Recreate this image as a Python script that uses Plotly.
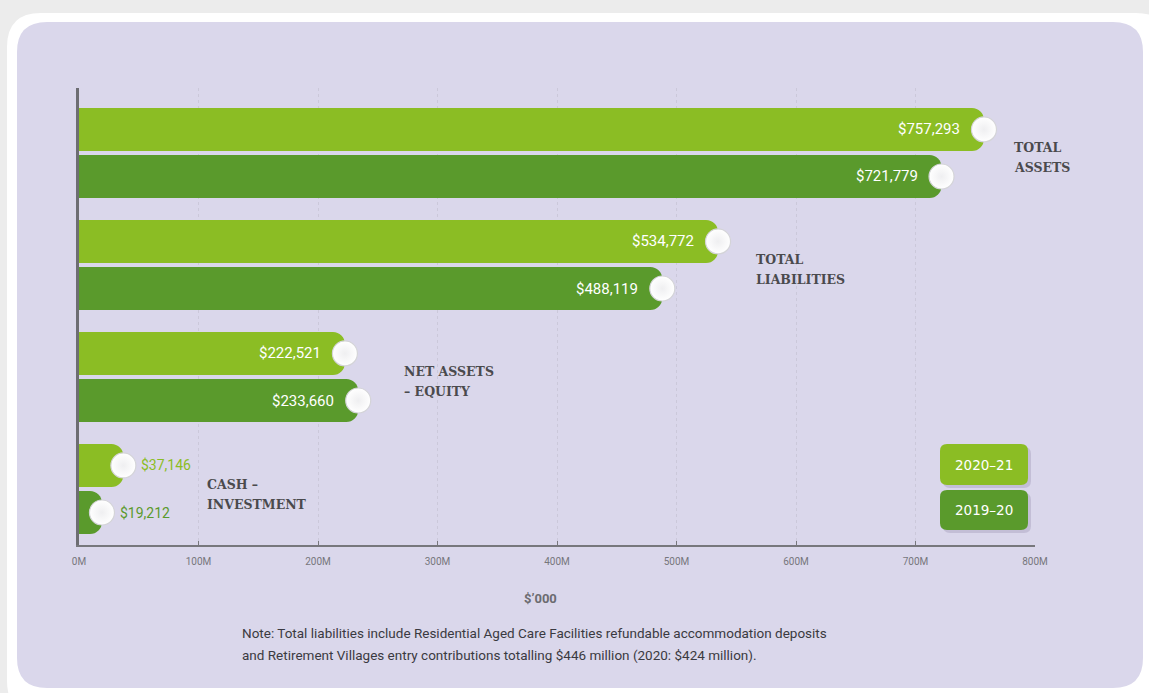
import plotly.graph_objects as go

# ---------------- data ----------------
categories = ["TOTAL<br>ASSETS", "TOTAL<br>LIABILITIES", "NET ASSETS<br>– EQUITY", "CASH –<br>INVESTMENT"]
series_names = ["2020–21", "2019–20"]
values_2021 = [757.293, 534.772, 222.521, 37.146]   # $M
values_2020 = [721.779, 488.119, 233.660, 19.212]   # $M
labels_2021 = ["$757,293", "$534,772", "$222,521", "$37,146"]
labels_2020 = ["$721,779", "$488,119", "$233,660", "$19,212"]
tick_vals = [0, 100, 200, 300, 400, 500, 600, 700, 800]
tick_text = ["0M", "100M", "200M", "300M", "400M", "500M", "600M", "700M", "800M"]
axis_title = "$’000"
note_lines = [
    "Note: Total liabilities include Residential Aged Care Facilities refundable accommodation deposits",
    "and Retirement Villages entry contributions totalling $446 million (2020: $424 million).",
]

# ---------------- style ----------------
W, H = 1149, 693
ML, MR, MT, MB = 79, 114, 88, 148
LIGHT = "#8bbd24"
DARK = "#5a9a2c"
LAV = "#dad7eb"
BAR_W = 0.385
HALF = 0.21
cat_label_shift = [28, 36, 44, 82]

n = len(categories)
ypos = [n - 1 - i for i in range(n)]
y_light = [y + HALF for y in ypos]
y_dark = [y - HALF for y in ypos]

fig = go.Figure()
fig.add_trace(go.Bar(orientation="h", x=values_2021, y=ypos, name=series_names[0],
                     offset=HALF - BAR_W / 2, width=BAR_W,
                     marker=dict(color=LIGHT, cornerradius=12, line=dict(width=0)),
                     hoverinfo="skip"))
fig.add_trace(go.Bar(orientation="h", x=values_2020, y=ypos, name=series_names[1],
                     offset=-HALF - BAR_W / 2, width=BAR_W,
                     marker=dict(color=DARK, cornerradius=12, line=dict(width=0)),
                     hoverinfo="skip"))
for xs, ys in ((values_2021, y_light), (values_2020, y_dark)):
    fig.add_trace(go.Scatter(x=xs, y=ys, mode="markers", hoverinfo="skip",
                             marker=dict(size=25, color="#ffffff",
                                         gradient=dict(type="radial", color="#efeff1"),
                                         line=dict(color="#d4d4d8", width=1.2))))

annotations = []
# value labels
for xs, ys, labs, col in ((values_2021, y_light, labels_2021, LIGHT), (values_2020, y_dark, labels_2020, DARK)):
    for x, y, lab in zip(xs, ys, labs):
        if x >= 100:
            annotations.append(dict(x=x, y=y, text=lab, showarrow=False, xanchor="right",
                                    xshift=-22, yanchor="middle",
                                    font=dict(family="Roboto, Open Sans, sans-serif", size=15, color="#ffffff")))
        else:
            annotations.append(dict(x=x, y=y, text=lab, showarrow=False, xanchor="left",
                                    xshift=16, yanchor="middle",
                                    font=dict(family="Roboto, Open Sans, sans-serif", size=14, color=col)))
# category labels (two lines, 20px apart)
for i, (cat, y) in enumerate(zip(categories, ypos)):
    xm = max(values_2021[i], values_2020[i])
    for j, part in enumerate(cat.split("<br>")):
        annotations.append(dict(x=xm, y=y, text=part, showarrow=False, xanchor="left",
                                xshift=cat_label_shift[i], yshift=5 - 20 * j, yanchor="middle", align="left",
                                font=dict(family="DejaVu Serif, serif", size=12.5, color="#4a4a4d",
                                          weight="bold")))


def px2paper(px, py):
    return (px - ML) / (W - ML - MR), (H - MB - py) / (H - MT - MB)


def rrect(x0, y0, x1, y1, r):
    def P(px, py):
        a, b = px2paper(px, py)
        return f"{a:.5f},{b:.5f}"
    return (f"M {P(x0 + r, y0)} L {P(x1 - r, y0)} Q {P(x1, y0)} {P(x1, y0 + r)} "
            f"L {P(x1, y1 - r)} Q {P(x1, y1)} {P(x1 - r, y1)} L {P(x0 + r, y1)} "
            f"Q {P(x0, y1)} {P(x0, y1 - r)} L {P(x0, y0 + r)} Q {P(x0, y0)} {P(x0 + r, y0)} Z")


shapes = [
    dict(type="path", xref="paper", yref="paper", path=rrect(10, 16, 1175, 720, 34),
         fillcolor="#d2d2d2", line=dict(width=0), layer="below"),
    dict(type="path", xref="paper", yref="paper", path=rrect(7, 13, 1170, 715, 34),
         fillcolor="#ffffff", line=dict(width=0), layer="below"),
    dict(type="path", xref="paper", yref="paper", path=rrect(17, 22, 1143, 688, 30),
         fillcolor=LAV, line=dict(width=0), layer="below"),
]

# legend boxes
leg_boxes = [(940, 444, 1028, 485), (940, 490, 1028, 530)]
for (x0, y0, x1, y1), name, col in zip(leg_boxes, series_names, (LIGHT, DARK)):
    shapes.append(dict(type="path", xref="paper", yref="paper", path=rrect(x0 + 3, y0 + 3, x1 + 3, y1 + 3, 7),
                       fillcolor="#c3bed6", line=dict(width=0), layer="above"))
    shapes.append(dict(type="path", xref="paper", yref="paper", path=rrect(x0, y0, x1, y1, 7),
                       fillcolor=col, line=dict(width=0), layer="above"))
    cx, cy = px2paper((x0 + x1) / 2, (y0 + y1) / 2)
    annotations.append(dict(x=cx, y=cy, xref="paper", yref="paper", text=name, showarrow=False,
                            xanchor="center", yanchor="middle",
                            font=dict(family="DejaVu Sans, sans-serif", size=13.5, color="#ffffff")))

# axis title
tx, ty = px2paper(540, 598)
annotations.append(dict(x=tx, y=ty, xref="paper", yref="paper", text="<b>" + axis_title + "</b>",
                        showarrow=False, xanchor="center", yanchor="middle",
                        font=dict(family="Roboto, sans-serif", size=13, color="#6b6b70")))
# note
for line, py in zip(note_lines, (633, 655)):
    nx, ny = px2paper(240, py)
    annotations.append(dict(x=nx, y=ny, xref="paper", yref="paper", text=line, showarrow=False,
                            xanchor="left", yanchor="middle",
                            font=dict(family="Roboto, sans-serif", size=13.5, color="#3a3a41")))

fig.update_layout(
    width=W, height=H, margin=dict(l=ML, r=MR, t=MT, b=MB),
    paper_bgcolor="#ececec", plot_bgcolor="rgba(0,0,0,0)",
    showlegend=False, barmode="overlay",
    shapes=shapes, annotations=annotations,
    xaxis=dict(range=[0, 800], tickvals=tick_vals, ticktext=tick_text, showgrid=True,
               gridcolor="#cbc8da", griddash="dot", gridwidth=1, zeroline=False,
               showline=True, linecolor="#77777c", linewidth=2, ticks="inside", ticklen=4,
               tickcolor="#77777c", ticklabelstandoff=6,
               tickfont=dict(family="Roboto, sans-serif", size=10, color="#76767c"),
               fixedrange=True),
    yaxis=dict(range=[-0.5, 3.58], showticklabels=False, showgrid=False, zeroline=False,
               showline=True, linecolor="#6d6d72", linewidth=3, ticks="", fixedrange=True),
)

fig.write_html("out.html")
